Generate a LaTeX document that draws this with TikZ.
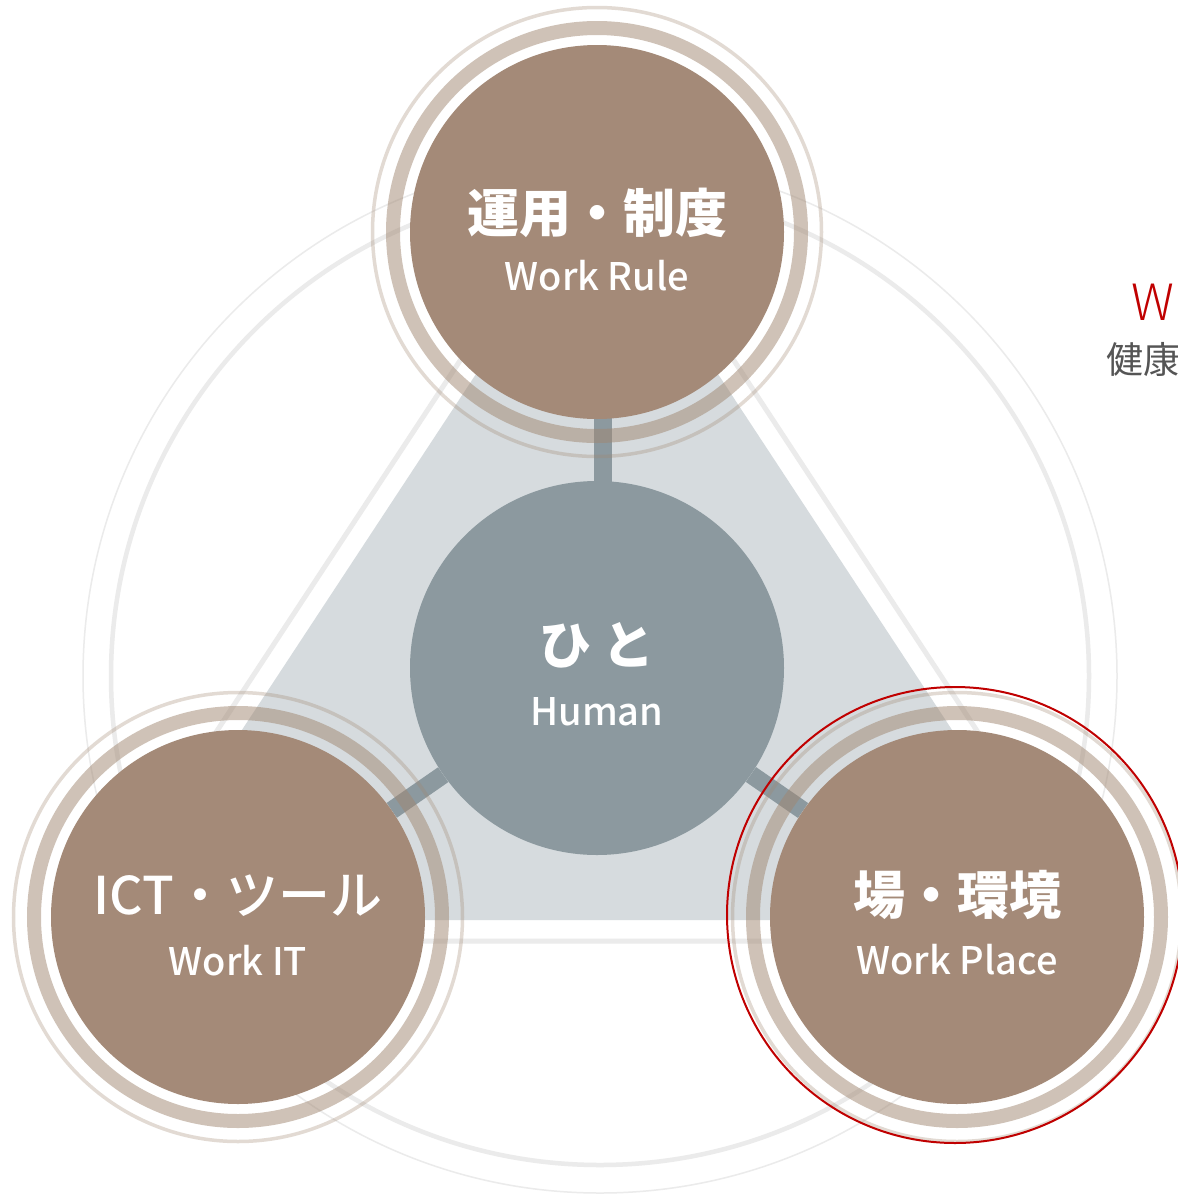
\documentclass[tikz,border=0pt]{standalone}
\usepackage{fontspec}
\setmainfont{Noto Sans CJK JP}
\newfontfamily\jpfont{Noto Sans CJK JP}
\newfontfamily\jpmed{Noto Sans CJK JP Medium}
\newfontfamily\jplight{Noto Sans CJK JP Light}
\usetikzlibrary{calc,positioning,backgrounds}
\definecolor{brownfill}{HTML}{A48A78}
\definecolor{ringbrown}{HTML}{A08670}
\definecolor{humanfill}{HTML}{8C999F}
\definecolor{trifill}{HTML}{D6DBDE}
\definecolor{faintgrey}{HTML}{EBEBEB}
\definecolor{markred}{HTML}{C00000}
\definecolor{textgrey}{HTML}{555555}

\tikzset{
  disk/.style={circle, fill=brownfill, minimum size=374pt, inner sep=0pt},
  hub/.style={disk, fill=humanfill},
  jtitle/.style={text=white, inner sep=0pt, font=\jpfont\fontsize{52}{60}\selectfont\bfseries},
  etitle/.style={text=white, inner sep=0pt, font=\jpmed\fontsize{38}{46}\selectfont},
  ring/.style={draw=ringbrown, draw opacity=0.5, line width=14pt},
  halo/.style={draw=ringbrown, draw opacity=0.3, line width=3.5pt},
  link/.style={draw=humanfill, line width=18pt}
}

\begin{document}
\begin{tikzpicture}[x=1pt,y=-1pt]
  \useasboundingbox (0,0) rectangle (1178,1195);

  % background: faint circles and triangle
  \begin{pgfonlayer}{background}
    \fill[white] (0,0) rectangle (1178,1195);
    \draw[faintgrey, line width=4.5pt] (600,676) circle[radius=489];
    \draw[faintgrey, line width=1.5pt] (600,676) circle[radius=517];
    \fill[trifill] (597,190) -- (117,920) -- (1077,920) -- cycle;
    \draw[faintgrey, line width=5pt] (597,152) -- (79,941) -- (1115,941) -- cycle;
  \end{pgfonlayer}

  % circles
  \node[hub] (human) at (597,668) {};
  \node[disk] (rule) at (597,232) {};
  \node[disk] (tool) at (238,917) {};
  \node[disk] (place) at (957,917) {};

  % links
  \begin{pgfonlayer}{background}
    \draw[link] ([xshift=6pt]human.center) -- ([xshift=6pt]rule.center);
    \draw[link] (human) -- (tool);
    \draw[link] (human) -- (place);
  \end{pgfonlayer}

  % rings
  \foreach \c in {rule,tool,place}{
    \draw[ring] (\c.center) circle[radius=204];
    \draw[halo] (\c.center) circle[radius=224.5];
  }
  \draw[markred, line width=2pt] (955,915) circle[radius=228];

  % labels
  \node[jtitle] (ruleJ) at ($(rule)+(0,-19)$) {運用・制度};
  \node[etitle] (ruleE) at ($(rule)+(0,44)$) {Work Rule};
  \node[jtitle] (humanJ) at ($(human)+(0,-23)$) {ひ と};
  \node[etitle] (humanE) at ($(human)+(0,44)$) {Human};
  \node[jtitle, font=\jpmed\fontsize{52}{60}\selectfont] (toolJ) at ($(tool)+(0,-21)$) {ICT・ツール};
  \node[etitle] (toolE) at ($(tool)+(0,44)$) {Work IT};
  \node[jtitle] (placeJ) at ($(place)+(0,-22)$) {場・環境};
  \node[etitle] (placeE) at ($(place)+(0,43)$) {Work Place};

  % side text (cut by the page edge)
  \node[anchor=west, inner sep=0pt, text=markred, font=\jplight\fontsize{50}{60}\selectfont] (sideW) at (1131,302) {W};
  \node[anchor=west, inner sep=0pt, text=textgrey, font=\jpfont\fontsize{37}{44}\selectfont] (sideJ) at (1106,360) {健康};
\end{tikzpicture}
\end{document}
